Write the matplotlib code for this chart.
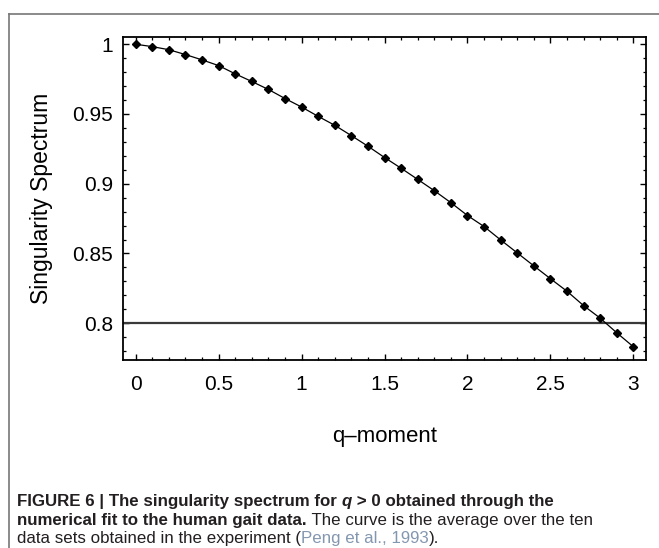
import matplotlib
matplotlib.use("Agg")
import matplotlib.pyplot as plt
from matplotlib import font_manager
from matplotlib.lines import Line2D
from matplotlib.ticker import MultipleLocator, FixedLocator

# ---- data ----
q_values = [0.0, 0.1, 0.2, 0.3, 0.4, 0.5, 0.6, 0.7, 0.8, 0.9, 1.0,
            1.1, 1.2, 1.3, 1.4, 1.5, 1.6, 1.7, 1.8, 1.9, 2.0,
            2.1, 2.2, 2.3, 2.4, 2.5, 2.6, 2.7, 2.8, 2.9, 3.0]
spectrum = [1.0000, 0.9983, 0.9961, 0.9926, 0.9888, 0.9847, 0.9788, 0.9733, 0.9676, 0.9611, 0.9550,
            0.9483, 0.9419, 0.9345, 0.9269, 0.9188, 0.9111, 0.9031, 0.8950, 0.8864, 0.8772,
            0.8693, 0.8597, 0.8504, 0.8411, 0.8319, 0.8229, 0.8126, 0.8036, 0.7931, 0.7831]
threshold = 0.8
x_ticks = [0, 0.5, 1, 1.5, 2, 2.5, 3]
x_tick_labels = ["0", "0.5", "1", "1.5", "2", "2.5", "3"]
y_ticks = [0.8, 0.85, 0.9, 0.95, 1.0]
y_tick_labels = ["0.8", "0.85", "0.9", "0.95", "1"]
x_label = "q\u2013moment"
y_label = "Singularity Spectrum"


def has_font(name):
    try:
        font_manager.findfont(font_manager.FontProperties(family=name), fallback_to_default=False)
        return True
    except Exception:
        return False


main_font = "Liberation Sans" if has_font("Liberation Sans") else "DejaVu Sans"
cap_font = "Liberation Sans Narrow" if has_font("Liberation Sans Narrow") else main_font
cap_size = 14.0 if cap_font == "Liberation Sans Narrow" else 12.2

plt.rcParams["font.family"] = [main_font, "DejaVu Sans"]

fig = plt.figure(figsize=(6.59, 5.48), dpi=100)
ax = fig.add_axes([0.1862, 0.3425, 0.9803 - 0.1862, 0.933 - 0.3425])

ax.plot(q_values, spectrum, color="black", lw=0.9, marker="D", markersize=4.5,
        markerfacecolor="black", markeredgecolor="black", zorder=3)
ax.axhline(threshold, color="#3a3a3a", lw=1.6, zorder=2)

ax.set_xlim(-0.078, 3.076)
ax.set_ylim(0.7734, 1.0054)

ax.xaxis.set_major_locator(FixedLocator(x_ticks))
ax.set_xticklabels(x_tick_labels)
ax.yaxis.set_major_locator(FixedLocator(y_ticks))
ax.set_yticklabels(y_tick_labels)
ax.xaxis.set_minor_locator(MultipleLocator(0.1))
ax.yaxis.set_minor_locator(MultipleLocator(0.01))

ax.tick_params(which="both", direction="in", top=True, right=True, colors="black")
ax.tick_params(which="major", length=4, width=1.0, labelsize=15)
ax.tick_params(which="minor", length=2.5, width=0.9)
ax.tick_params(axis="x", which="major", pad=10.5)
ax.tick_params(axis="y", which="major", pad=7)

for s in ax.spines.values():
    s.set_linewidth(1.3)
    s.set_color("black")

ax.set_xlabel(x_label, fontsize=16, labelpad=23)
ax.set_ylabel(y_label, fontsize=16.5, labelpad=14)

# outer frame (left and top edges)
fig.add_artist(Line2D([9 / 659, 9 / 659], [0, 1 - 14 / 548], transform=fig.transFigure,
                      color="#777777", lw=1.2))
fig.add_artist(Line2D([9 / 659, 1.0], [1 - 14 / 548, 1 - 14 / 548], transform=fig.transFigure,
                      color="#777777", lw=1.2))

# caption
cap_color = "#231f20"
link_color = "#8497b0"
x0 = 17 / 659
line_ys = [1 - 506 / 548, 1 - 525.5 / 548, 1 - 543.5 / 548]

lines = [
    [("FIGURE 6 | The singularity spectrum for ", "bold", "normal", cap_color),
     ("q", "bold", "italic", cap_color),
     (" > 0 obtained through the", "bold", "normal", cap_color)],
    [("numerical fit to the human gait data.", "bold", "normal", cap_color),
     (" The curve is the average over the ten", "normal", "normal", cap_color)],
    [("data sets obtained in the experiment (", "normal", "normal", cap_color),
     ("Peng et al., 1993", "normal", "normal", link_color),
     (").", "normal", "normal", cap_color)],
]

created = []
for y, pieces in zip(line_ys, lines):
    row = []
    for txt, weight, style, col in pieces:
        t = fig.text(x0, y, txt, fontsize=cap_size, fontweight=weight, fontstyle=style,
                     color=col, family=[cap_font, "DejaVu Sans"], va="baseline", ha="left")
        row.append(t)
    created.append((y, row))

fig.canvas.draw()
renderer = fig.canvas.get_renderer()
for y, row in created:
    cur_x = None
    for k, t in enumerate(row):
        if k > 0:
            t.set_position((cur_x / fig.bbox.width, y))
        bb = t.get_window_extent(renderer)
        cur_x = bb.x1

fig.savefig("out.png", dpi=100)
